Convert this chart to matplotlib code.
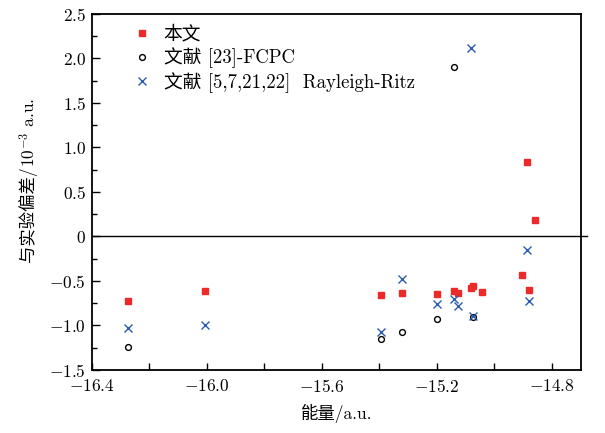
import matplotlib
matplotlib.use("Agg")
import matplotlib.pyplot as plt
from matplotlib.ticker import MultipleLocator, FuncFormatter

plt.rcParams['font.family'] = ['cmr10', 'Noto Sans CJK SC', 'DejaVu Sans']
plt.rcParams['mathtext.fontset'] = 'cm'
plt.rcParams['axes.unicode_minus'] = False

# 本文
x_this = [-16.273, -16.006, -15.394, -15.320, -15.200, -15.140, -15.127,
          -15.081, -15.073, -15.045, -14.906, -14.886, -14.879, -14.858]
y_this = [-0.72, -0.61, -0.66, -0.63, -0.65, -0.61, -0.63,
          -0.575, -0.555, -0.62, -0.43, 0.834, -0.60, 0.185]

# 文献[23]-FCPC
x_fcpc = [-16.273, -15.394, -15.320, -15.200, -15.140, -15.073]
y_fcpc = [-1.24, -1.155, -1.07, -0.93, 1.905, -0.91]

# 文献[5,7,21,22] Rayleigh-Ritz
x_rr = [-16.273, -16.006, -15.394, -15.320, -15.200, -15.140, -15.127,
        -15.081, -15.073, -14.886, -14.879]
y_rr = [-1.03, -0.99, -1.07, -0.48, -0.76, -0.70, -0.78,
        2.12, -0.89, -0.15, -0.72]

labels = ['本文', '文献 [23]-FCPC', '文献 [5,7,21,22]  Rayleigh-Ritz']
xlabel_text = '能量/a.u.'
ylabel_cjk = '与实验偏差/'
ylabel_unit = '$10^{-3}$ a.u.'

red = '#ec2a2a'
blue = '#2c5cb0'

fig = plt.figure(figsize=(6.05, 4.33), dpi=100)
ax = fig.add_axes([0.1516, 0.1455, 0.8084, 0.8222])

ax.plot(x_this, y_this, 's', ms=4.3, color=red, mec=red, ls='none', label=labels[0])
ax.plot(x_fcpc, y_fcpc, 'o', ms=4.2, mfc='none', mec='black', mew=1.0, ls='none', label=labels[1])
ax.plot(x_rr, y_rr, 'x', ms=5.2, color=blue, mew=1.0, ls='none', label=labels[2])

ax.axhline(0, xmin=0, xmax=1.012, color='black', lw=1.0, clip_on=False, zorder=1)

ax.set_xlim(-16.4, -14.7)
ax.set_ylim(-1.5, 2.5)

ax.xaxis.set_major_locator(MultipleLocator(0.2))
ax.yaxis.set_major_locator(MultipleLocator(0.5))
ax.yaxis.set_minor_locator(MultipleLocator(0.25))

def xfmt(v, pos):
    k = round(v / 0.2)
    if k % 2 != 0:
        return ''
    s = f"{abs(v):.1f}"
    return f"$-{s}$" if v < 0 else f"${s}$"

def yfmt(v, pos):
    if abs(v) < 1e-9:
        return "$0$"
    s = f"{abs(v):.1f}"
    return f"$-{s}$" if v < 0 else f"${s}$"

ax.xaxis.set_major_formatter(FuncFormatter(xfmt))
ax.yaxis.set_major_formatter(FuncFormatter(yfmt))

ax.tick_params(axis='both', which='both', direction='in', top=False, right=False,
               labelsize=12.5, width=1.0)
ax.tick_params(axis='x', which='major', length=5, pad=6)
ax.tick_params(axis='y', which='major', length=5.5, pad=4)
ax.tick_params(axis='y', which='minor', length=3.5)

for sp in ax.spines.values():
    sp.set_linewidth(1.3)

ax.set_xlabel(xlabel_text, fontsize=12.5, labelpad=6)

# y label: CJK part and math part as two rotated texts, joined end to end
ylx = 28 / 605.0
t1 = fig.text(ylx, 0.5, ylabel_cjk, rotation=90, fontsize=12.5,
              ha='center', va='top')
t2 = fig.text(ylx, 0.5, ylabel_unit, rotation=90, fontsize=12.5,
              ha='center', va='bottom')
fig.canvas.draw()
r = fig.canvas.get_renderer()
h1 = t1.get_window_extent(r).height
h2 = t2.get_window_extent(r).height
H = fig.get_figheight() * fig.dpi
label_mid = (433 - 180) / 433.0 * H
split = label_mid - (h1 + h2) / 2 + h1
t1.set_y(split / H)
t2.set_y(split / H)

leg = ax.legend(loc='upper left', bbox_to_anchor=(0.057, 1.0), frameon=False,
                fontsize=13.5, handletextpad=0.55, labelspacing=0.22,
                handlelength=1.2, borderaxespad=0.2)

fig.savefig('out.png', dpi=100)
